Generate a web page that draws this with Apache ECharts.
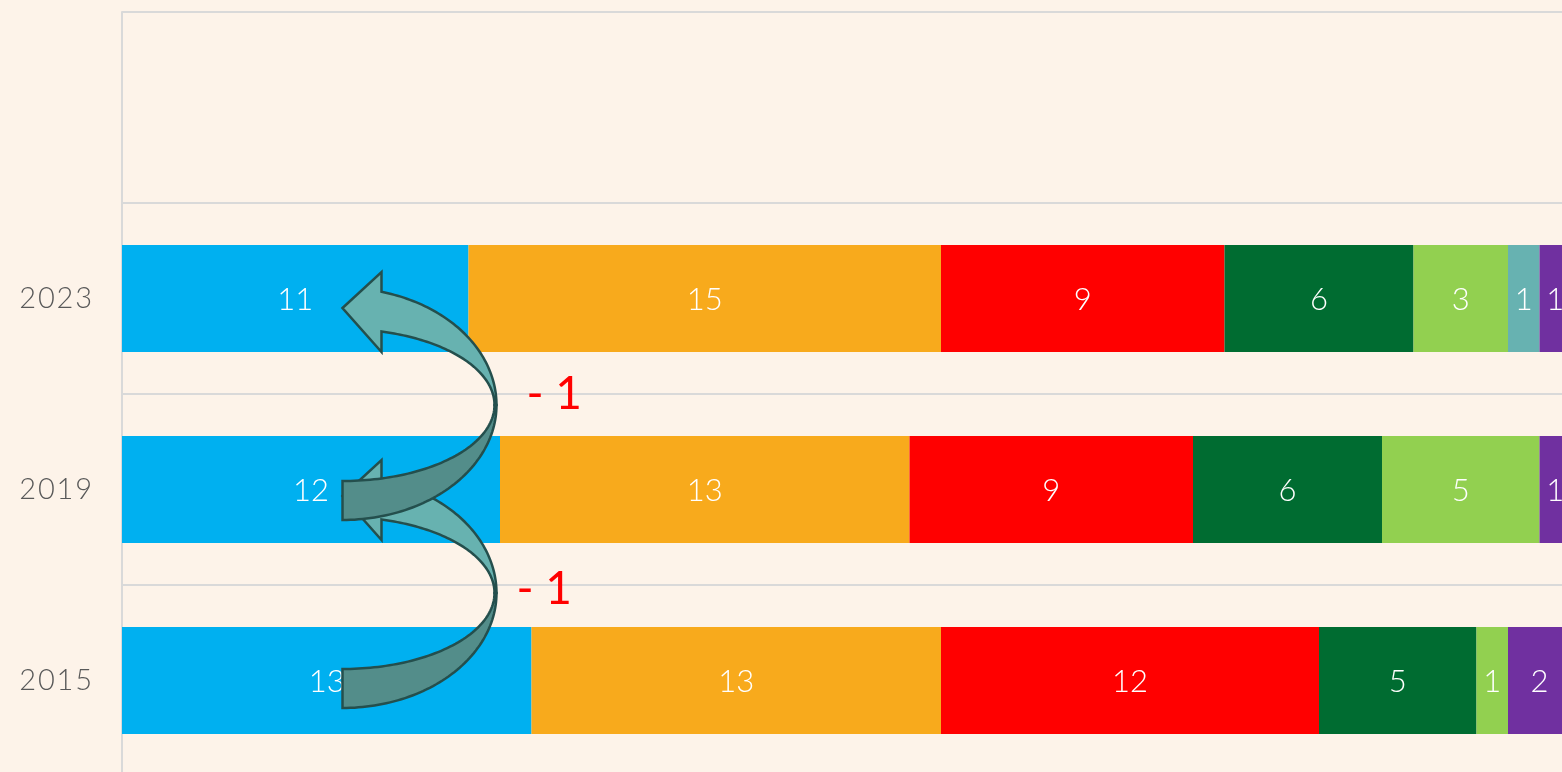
<!DOCTYPE html>
<html><head><meta charset="utf-8">
<script src="https://cdn.jsdelivr.net/npm/echarts@6/dist/echarts.min.js"></script>
<style>html,body{margin:0;padding:0;background:#FDF3E9;}#c{width:1562px;height:772px;}</style>
</head><body><div id="c"></div><script>
const categories = ['2015', '2019', '2023', ''];
const blueVals = [13, 12, 11, null];
const orangeVals = [13, 13, 15, null];
const redVals = [12, 9, 9, null];
const darkGreenVals = [5, 6, 6, null];
const lightGreenVals = [1, 5, 3, null];
const tealVals = [null, null, 1, null];
const purpleVals = [2, 1, 1, null];
const changeLabels = ['- 1', '- 1']; // 2015->2019, 2019->2023
const xMax = 46;

const FONT = 'Lato, "Open Sans", sans-serif';
const colors = ['#00B0F0', '#F8AA1C', '#FF0000', '#006C31', '#92D050', '#67B2B1', '#7030A0'];
const seriesData = [blueVals, orangeVals, redVals, darkGreenVals, lightGreenVals, tealVals, purpleVals];

const chart = echarts.init(document.getElementById('c'), null, {renderer: 'canvas'});
chart.setOption({
  backgroundColor: '#FDF3E9',
  animation: false,
  grid: {left: 122, top: 12, right: -9, bottom: -4, containLabel: false, outerBoundsMode: 'none'},
  xAxis: {type: 'value', min: 0, max: xMax, show: false, splitLine: {show: false}},
  yAxis: {
    type: 'category', data: categories,
    axisLine: {show: true, lineStyle: {color: '#D9D9D9', width: 2}},
    axisTick: {show: false},
    splitLine: {show: true, lineStyle: {color: '#D9D9D9', width: 2}},
    axisLabel: {
      margin: 30, fontSize: 29, color: '#595959', fontFamily: FONT, fontWeight: 300,
      formatter: v => v.split('').join('\u200A')
    }
  },
  series: seriesData.map((d, i) => ({
    type: 'bar', stack: 'total', data: d,
    barCategoryGap: '44%',
    itemStyle: {color: colors[i]},
    label: {
      show: true, position: 'inside', color: '#FFFFFF', fontSize: 31,
      fontFamily: FONT, fontWeight: 300, offset: [0, 1],
      formatter: p => (p.value == null ? '' : String(p.value))
    }
  }))
});

// Curved arrow annotations
function ell(cx, cy, rx, ry, t0, t1, n) {
  const pts = [];
  for (let k = 0; k <= n; k++) {
    const t = t0 + (t1 - t0) * k / n;
    pts.push([cx + rx * Math.cos(t), cy + ry * Math.sin(t)]);
  }
  return pts;
}
function arrow(tipX, yB, z) {
  const cx = tipX, cy = yB + 11;
  const rxO = 154, ryO = 117, rxI = 152, ryI = 76, ryO2 = 115;
  const hx = tipX + 39;
  const tO = -Math.acos((hx - cx) / rxO);
  const tI = -Math.acos((hx - cx) / rxI);
  const light = [[tipX, yB - 86], [hx, yB - 122]]
    .concat(ell(cx, cy, rxO, ryO, tO, 0, 60))
    .concat(ell(cx, cy, rxI, ryI, 0, tI, 60))
    .concat([[hx, yB - 42]]);
  const dark = ell(cx, cy, rxO, ryO2, 0, Math.PI / 2, 60)
    .concat(ell(cx, cy, rxI, ryI, Math.PI / 2, 0, 60));
  const st = {stroke: '#244F4D', lineWidth: 2.5, lineJoin: 'miter'};
  return [
    {type: 'polygon', z: z, shape: {points: light}, style: Object.assign({fill: '#67B2B0'}, st)},
    {type: 'polygon', z: z + 1, shape: {points: dark}, style: Object.assign({fill: '#538D8A'}, st)}
  ];
}
const tipX = chart.convertToPixel({xAxisIndex: 0}, 7);
const yC = categories.map(c => chart.convertToPixel({yAxisIndex: 0}, c));
const graphics = [];
const arrowDy = [-3, 0];
const textDx = [174, 184];
const textDy = [4, 0];
for (let i = 0; i < 2; i++) {
  const yB = (yC[i] + yC[i + 1]) / 2;
  graphics.push(...arrow(tipX, yB + arrowDy[i], 10 + i * 5));
  graphics.push({
    type: 'text', z: 20, x: tipX + textDx[i], y: yB + textDy[i],
    style: {text: changeLabels[i], fill: '#FF0000', font: '400 46px ' + FONT, align: 'left', verticalAlign: 'middle'}
  });
}
chart.setOption({graphic: graphics});
</script></body></html>
